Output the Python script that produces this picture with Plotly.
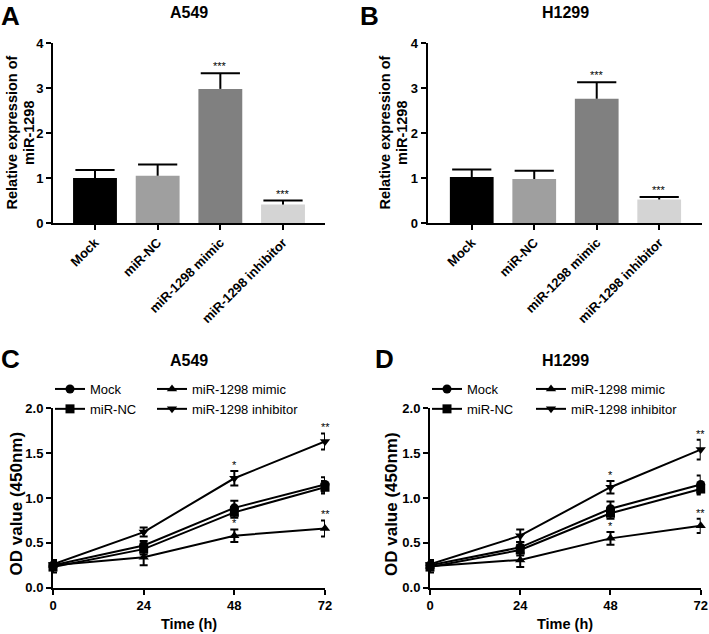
import plotly.graph_objects as go

W, H = 709, 634

# ---------------- data ----------------
bar_categories = ["Mock", "miR-NC", "miR-1298 mimic", "miR-1298 inhibitor"]
bar_colors = ["#000000", "#9f9f9f", "#808080", "#d4d4d4"]

a549_expr = [1.00, 1.05, 2.98, 0.41]
a549_expr_err = [0.18, 0.25, 0.35, 0.09]
a549_expr_sig = ["", "", "***", "***"]

h1299_expr = [1.02, 0.98, 2.76, 0.52]
h1299_expr_err = [0.17, 0.18, 0.37, 0.06]
h1299_expr_sig = ["", "", "***", "***"]

time_h = [0, 24, 48, 72]
time_ticks = [0, 24, 48, 72]
series_names = ["Mock", "miR-NC", "miR-1298 mimic", "miR-1298 inhibitor"]
series_symbols = ["circle", "square", "triangle-up", "triangle-down"]

a549_od = {
    "Mock": [0.25, 0.47, 0.89, 1.15],
    "miR-NC": [0.23, 0.43, 0.84, 1.12],
    "miR-1298 mimic": [0.25, 0.34, 0.58, 0.66],
    "miR-1298 inhibitor": [0.26, 0.62, 1.22, 1.63],
}
a549_od_err = {
    "Mock": [0.05, 0.05, 0.08, 0.08],
    "miR-NC": [0.06, 0.06, 0.06, 0.07],
    "miR-1298 mimic": [0.04, 0.09, 0.07, 0.09],
    "miR-1298 inhibitor": [0.05, 0.05, 0.08, 0.09],
}
a549_od_sig = {
    "miR-1298 mimic": ["", "", "*", "**"],
    "miR-1298 inhibitor": ["", "", "*", "**"],
}

h1299_od = {
    "Mock": [0.25, 0.45, 0.88, 1.15],
    "miR-NC": [0.23, 0.42, 0.83, 1.10],
    "miR-1298 mimic": [0.24, 0.31, 0.55, 0.69],
    "miR-1298 inhibitor": [0.26, 0.58, 1.12, 1.54],
}
h1299_od_err = {
    "Mock": [0.05, 0.06, 0.08, 0.10],
    "miR-NC": [0.06, 0.06, 0.06, 0.06],
    "miR-1298 mimic": [0.04, 0.08, 0.07, 0.08],
    "miR-1298 inhibitor": [0.05, 0.07, 0.07, 0.11],
}
h1299_od_sig = {
    "miR-1298 mimic": ["", "", "*", "**"],
    "miR-1298 inhibitor": ["", "", "*", "**"],
}

FONT = "Liberation Sans, Arial, sans-serif"

fig = go.Figure()
annotations = []


def px_x(p):
    return p / W


def px_y(p):
    return 1 - p / H


def add_bar_panel(ax, ay, vals, errs, sigs):
    xa = "x" + ("" if ax == 1 else str(ax))
    ya = "y" + ("" if ay == 1 else str(ay))
    fig.add_trace(go.Bar(
        x=bar_categories, y=vals, marker=dict(color=bar_colors, line=dict(width=0)),
        width=0.7, xaxis=xa, yaxis=ya, showlegend=False,
    ))
    tops = [v + e for v, e in zip(vals, errs)]
    fig.add_trace(go.Scatter(
        x=bar_categories, y=tops, mode="markers",
        marker=dict(symbol="line-ew", size=28, line=dict(width=2, color="black")),
        error_y=dict(type="data", symmetric=False, array=[0] * len(vals), arrayminus=errs,
                     width=0, thickness=2, color="black"),
        xaxis=xa, yaxis=ya, showlegend=False, cliponaxis=False,
    ))
    for c, t, s in zip(bar_categories, tops, sigs):
        if s:
            annotations.append(dict(x=c, y=t, xref=xa, yref=ya, text=s, showarrow=False,
                                    yanchor="bottom", yshift=-1,
                                    font=dict(family=FONT, size=11, color="black")))


add_bar_panel(1, 1, a549_expr, a549_expr_err, a549_expr_sig)
add_bar_panel(2, 2, h1299_expr, h1299_expr_err, h1299_expr_sig)


def add_line_panel(ax, ay, data, errs, sigs, legs):
    xa = "x" + str(ax)
    ya = "y" + str(ay)
    for i, name in enumerate(series_names):
        fig.add_trace(go.Scatter(
            x=time_h, y=data[name], mode="lines+markers", name=name,
            line=dict(color="black", width=2),
            marker=dict(symbol=series_symbols[i], size=9, color="black"),
            error_y=dict(type="data", array=errs[name], width=4, thickness=2, color="black"),
            xaxis=xa, yaxis=ya, cliponaxis=False,
            legend=legs[0] if i < 2 else legs[1],
        ))
    for name, s_list in sigs.items():
        for t, v, e, s in zip(time_h, data[name], errs[name], s_list):
            if s:
                annotations.append(dict(x=t, y=v + e, xref=xa, yref=ya, text=s, showarrow=False,
                                        yanchor="bottom", yshift=-2,
                                        font=dict(family=FONT, size=11, color="black")))


add_line_panel(3, 3, a549_od, a549_od_err, a549_od_sig, ["legend", "legend2"])
add_line_panel(4, 4, h1299_od, h1299_od_err, h1299_od_sig, ["legend3", "legend4"])

axis_line = dict(showline=True, linecolor="black", linewidth=2, ticks="outside",
                 tickwidth=2, ticklen=5, tickcolor="black", showgrid=False, zeroline=False,
                 automargin=False,
                 tickfont=dict(family=FONT, size=13, color="black", weight="bold"))

bar_y_dom = [px_y(223), px_y(43)]
line_y_dom = [px_y(587.7), px_y(408.3)]

fig.update_layout(
    width=W, height=H, margin=dict(l=0, r=0, t=0, b=0, autoexpand=False),
    paper_bgcolor="white", plot_bgcolor="white",
    font=dict(family=FONT, color="black"),
    xaxis=dict(domain=[px_x(53), px_x(325)], anchor="y", range=[-0.67, 3.67],
               tickangle=-45, **axis_line),
    yaxis=dict(domain=bar_y_dom, anchor="x", range=[0, 4], dtick=1, **axis_line),
    xaxis2=dict(domain=[px_x(427.7), px_x(701.7)], anchor="y2", range=[-0.705, 3.68],
                tickangle=-45, **axis_line),
    yaxis2=dict(domain=bar_y_dom, anchor="x2", range=[0, 4], dtick=1, **axis_line),
    xaxis3=dict(domain=[px_x(53), px_x(325)], anchor="y3", range=[0, 72], tickvals=time_ticks,
                **axis_line),
    yaxis3=dict(domain=line_y_dom, anchor="x3", range=[0, 2.0], dtick=0.5, tickformat=".1f",
                **axis_line),
    xaxis4=dict(domain=[px_x(430), px_x(700.7)], anchor="y4", range=[0, 72], tickvals=time_ticks,
                **axis_line),
    yaxis4=dict(domain=line_y_dom, anchor="x4", range=[0, 2.0], dtick=0.5, tickformat=".1f",
                **axis_line),
)

leg_common = dict(bgcolor="rgba(0,0,0,0)", font=dict(family=FONT, size=13, color="black"),
                  itemwidth=30, yanchor="top", xanchor="left", tracegroupgap=0)
fig.update_layout(
    legend=dict(x=px_x(50), y=px_y(374), **leg_common),
    legend2=dict(x=px_x(152), y=px_y(374), **leg_common),
    legend3=dict(x=px_x(427), y=px_y(374), **leg_common),
    legend4=dict(x=px_x(531), y=px_y(374), **leg_common),
)


def text_ann(txt, x, y, size, bold=True, angle=0, xanchor="center", yanchor="middle"):
    annotations.append(dict(x=px_x(x), y=px_y(y), xref="paper", yref="paper", text=txt,
                            showarrow=False, xanchor=xanchor, yanchor=yanchor, textangle=angle,
                            borderpad=0,
                            font=dict(family=FONT, size=size, color="black",
                                      weight="bold" if bold else "normal")))


# panel titles
for txt, x, y in [("A549", 189, 13), ("H1299", 565, 13), ("A549", 189, 360), ("H1299", 565, 360)]:
    text_ann(txt, x, y, 16)
# panel letters
text_ann("A", 0, 0, 26, xanchor="left", yanchor="top")
text_ann("B", 359, 0, 26, xanchor="left", yanchor="top")
text_ann("C", 0, 359, 26, xanchor="left")
text_ann("D", 374, 359, 26, xanchor="left")

# y-axis titles of bar panels (two lines)
for x1, x2 in [(11.5, 29), (384.5, 402)]:
    text_ann("Relative expression of", x1, 133, 14.5, angle=-90)
    text_ann("miR-1298", x2, 133, 14.5, angle=-90)

# axis titles of line panels
for xo, xc in [(15.5, 189), (391, 565)]:
    text_ann("OD value (450nm)", xo, 504, 17, angle=-90)
    text_ann("Time (h)", xc, 624, 14.5)

fig.update_layout(annotations=annotations)
fig.write_html(
    "out.html", config={"displayModeBar": False},
    post_script="document.body.style.margin='0';document.body.style.overflow='hidden';",
)
